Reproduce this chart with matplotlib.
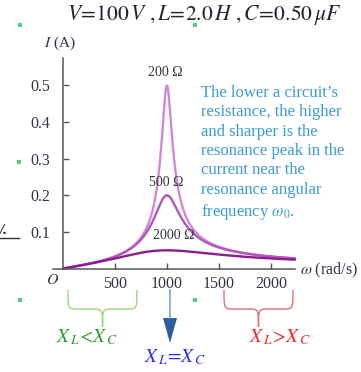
import numpy as np
import matplotlib
matplotlib.use("Agg")
import matplotlib.pyplot as plt
from matplotlib.path import Path
from matplotlib.patches import PathPatch

plt.rcParams["font.family"] = ["Liberation Serif", "DejaVu Serif"]
plt.rcParams["mathtext.fontset"] = "stix"

# Series RLC circuit parameters
supply_volts = 100.0
inductance_h = 2.0
capacitance_f = 0.50e-6
resistances = [200, 500, 2000]
resistance_labels = ["200 Ω", "500 Ω", "2000 Ω"]
curve_colors = ["#cf8ad2", "#b456bb", "#8e1c90"]

x_ticks = [500, 1000, 1500, 2000]
y_ticks = [0.1, 0.2, 0.3, 0.4, 0.5]

W, H = 361, 372
fig = plt.figure(figsize=(W / 100, H / 100), dpi=100)

x_min, x_max = -95, 2231
y_min, y_max = 0.0, 0.575
ax = fig.add_axes([53 / W, (H - 268.6) / H, (295 - 53) / W, (268.6 - 58) / H])
ax.set_xlim(x_min, x_max)
ax.set_ylim(y_min, y_max)

omega = np.linspace(1, 2231, 1500)
for R, col in zip(resistances, curve_colors):
    reactance = omega * inductance_h - 1.0 / (omega * capacitance_f)
    current = supply_volts / np.sqrt(R ** 2 + reactance ** 2)
    ax.plot(omega, current, color=col, lw=1.7, solid_capstyle="round", clip_on=False)

# Resistance labels placed just above each resonance peak
omega0 = 1.0 / np.sqrt(inductance_h * capacitance_f)
label_offsets = [(-20, 0.018), (-10, 0.018), (70, 0.022)]
for R, txt, (dx, dy) in zip(resistances, resistance_labels, label_offsets):
    ax.text(omega0 + dx, supply_volts / R + dy, txt, ha="center", va="bottom",
            fontsize=10, color="#333340")

for side in ("top", "right"):
    ax.spines[side].set_visible(False)
ax.spines["left"].set_position(("data", 0))
for side in ("left", "bottom"):
    ax.spines[side].set_color("#555560")
    ax.spines[side].set_linewidth(1.1)
ax.set_xticks(x_ticks)
ax.set_yticks(y_ticks)
ax.set_xticklabels([str(t) for t in x_ticks])
ax.set_yticklabels([f"{t:.1f}" for t in y_ticks])
ax.tick_params(direction="in", length=4, width=1, color="#555560",
               labelsize=11.5, labelcolor="#333344")
ax.tick_params(axis="y", pad=9)
ax.tick_params(axis="x", pad=5)
ax.patch.set_alpha(0)

# Overlay in pixel units for titles and annotations
ov = fig.add_axes([0, 0, 1, 1])
ov.set_xlim(0, W)
ov.set_ylim(H, 0)
ov.axis("off")
ov.patch.set_alpha(0)

ov.text(204, 15, r"$V\!=\!100\,V\ ,L\!=\!2.0\,H\ ,C\!=\!0.50\,\mu F$",
        ha="center", va="center", fontsize=15.5, color="#222230")
ov.text(44, 43, r"$I$ (A)", ha="left", va="center", fontsize=11, color="#333344")
ov.text(53, 280, r"$O$", ha="center", va="center", fontsize=11.5, color="#333344")
ov.text(300, 270, r"$\omega$ (rad/s)", ha="left", va="center", fontsize=11.5,
        color="#333344")

note = ("The lower a circuit’s\nresistance, the higher\nand sharper is the\n"
        "resonance peak in the\ncurrent near the\nresonance angular\n"
        r"frequency $\omega_0$.")
ov.text(201, 85, note, ha="left", va="top", fontsize=12, color="#3b9bd8",
        linespacing=1.28)

# Small marker squares
for (sx, sy) in [(20, 25), (195, 25), (19, 162), (20, 300), (195, 300)]:
    ov.add_patch(plt.Rectangle((sx - 2, sy - 2), 4, 4, color="#55cc88", lw=0))

ov.text(0, 231, "/.", ha="left", va="center", fontsize=11, fontweight="bold",
        fontstyle="italic", color="#222222")
ov.plot([0, 19], [237.5, 237.5], color="#333333", lw=1)


def brace(a, b, y0, h, r, t, color):
    m = (a + b) / 2.0
    y1 = y0 + h
    verts = [(a, y0), (a, y1), (a, y1), (a + r, y1), (m - r, y1),
             (m, y1), (m, y1), (m, y1 + t),
             (m, y1), (m, y1), (m + r, y1), (b - r, y1),
             (b, y1), (b, y1), (b, y0)]
    codes = [Path.MOVETO, Path.CURVE4, Path.CURVE4, Path.CURVE4, Path.LINETO,
             Path.CURVE4, Path.CURVE4, Path.CURVE4,
             Path.CURVE4, Path.CURVE4, Path.CURVE4, Path.LINETO,
             Path.CURVE4, Path.CURVE4, Path.CURVE4]
    ov.add_patch(PathPatch(Path(verts, codes), fill=False, ec=color, lw=1))


brace(68, 137, 290, 19, 10, 18, "#9cd67c")
brace(224, 293, 290, 19, 10, 18, "#e27070")

ov.plot([170, 170], [290, 318], color="#7aa6d6", lw=1.2)
ov.add_patch(plt.Polygon([(163, 318), (177, 318), (170, 343)], closed=True,
                         color="#2f5f9e", lw=0))

ov.text(87, 337, r"$X_{\,L}\!<\!X_{\,C}$", ha="center", va="center", fontsize=14,
        color="#2b9b2b")
ov.text(280, 337, r"$X_{\,L}\!>\!X_{\,C}$", ha="center", va="center", fontsize=14,
        color="#ee2a2a")
ov.text(175, 357, r"$X_{\,L}\!=\!X_{\,C}$", ha="center", va="center", fontsize=14,
        color="#2a2aee")

fig.savefig("out.png", dpi=100)
